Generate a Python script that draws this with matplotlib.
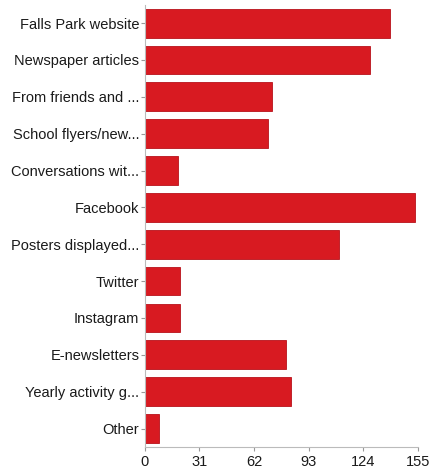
import matplotlib
matplotlib.use("Agg")
import matplotlib.pyplot as plt

categories = ["Falls Park website", "Newspaper articles", "From friends and ...",
              "School flyers/new...", "Conversations wit...", "Facebook",
              "Posters displayed...", "Twitter", "Instagram", "E-newsletters",
              "Yearly activity g...", "Other"]
values = [139, 128, 72, 70, 19, 153, 110, 20, 20, 80, 83, 8]
xticks = [0, 31, 62, 93, 124, 155]

plt.rcParams["font.family"] = ["Liberation Sans", "DejaVu Sans"]

fig = plt.figure(figsize=(4.31, 4.70), dpi=100)
ax = fig.add_axes([0.336, 0.049, 0.634, 0.941])

pos = list(range(len(categories)))
ax.barh(pos, values, height=0.78, color="#d81a21", edgecolor="#b8121a", linewidth=0.6)

ax.set_ylim(len(categories) - 0.5, -0.5)
ax.set_xlim(0, 155)
ax.set_yticks(pos)
ax.set_yticklabels(categories, fontsize=10.5, color="#1a1a1a")
ax.set_xticks(xticks)
ax.set_xticklabels([str(t) for t in xticks], fontsize=10.5, color="#1a1a1a")

for s in ["top", "right"]:
    ax.spines[s].set_visible(False)
ax.spines["left"].set_color("#bbbbbb")
ax.spines["bottom"].set_color("#bbbbbb")
ax.tick_params(axis="y", length=3, color="#999999", pad=1)
ax.tick_params(axis="x", length=3, color="#999999", pad=3)

fig.savefig("out.png", dpi=100)
